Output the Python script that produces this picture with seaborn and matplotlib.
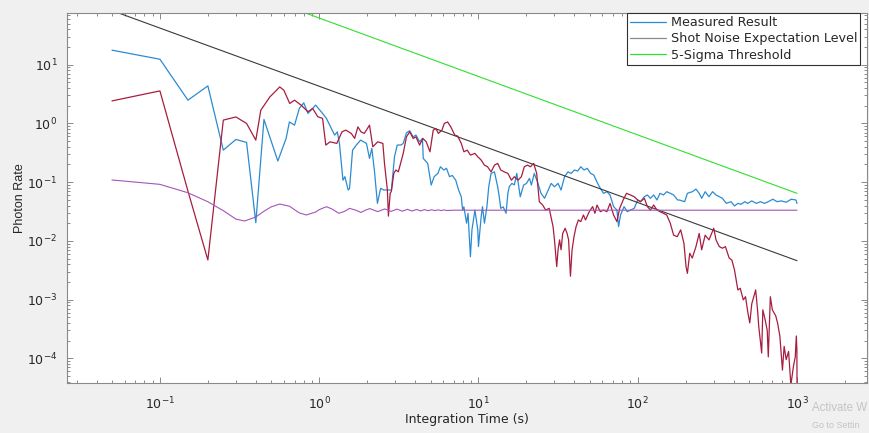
import matplotlib
matplotlib.use("Agg")
import matplotlib.pyplot as plt
from matplotlib.lines import Line2D
from matplotlib.ticker import LogLocator, NullFormatter
import seaborn as sns

# ---------------- data ----------------
t_measured = [0.05, 0.1, 0.15, 0.2, 0.25, 0.3, 0.35, 0.4, 0.45, 0.55, 0.62, 0.65, 0.7, 0.75,
              0.8, 0.85, 0.95, 1.03, 1.11, 1.25, 1.3, 1.34, 1.41, 1.45, 1.52, 1.55, 1.62, 1.71,
              1.82, 1.98, 2.07, 2.14, 2.22, 2.32, 2.43, 2.54, 2.7, 2.84, 2.97, 3.09, 3.27, 3.37,
              3.53, 3.7, 3.89, 4.05, 4.27, 4.45, 4.5, 4.8, 5.05, 5.27, 5.56, 5.77, 6.06, 6.3,
              6.58, 6.85, 7.2, 7.5, 7.8, 7.95, 8.1, 8.42, 8.6, 8.9, 9.1, 9.5, 9.9, 10.0, 10.4,
              10.6, 10.9, 11.3, 11.6, 12.0, 12.6, 13.2, 13.5, 13.8, 14.3, 14.9, 15.3, 15.6, 16.2,
              16.8, 17.4, 18.3, 19.2, 20, 20.9, 21.5, 22.4, 23.5, 24.7, 26.0, 27.4, 28.6, 30,
              31.6, 33, 34.7, 36.5, 38.2, 40, 42, 43.9, 46, 48.2, 50.6, 53, 55.5, 58.2, 61, 64,
              67, 70.5, 74, 75.8, 78, 82, 86, 90, 95, 100, 104, 110, 115, 120, 126, 132, 138,
              145, 152, 160, 168, 178, 182, 197, 205, 220, 232, 243, 252, 265, 280, 295, 310,
              325, 340, 360, 385, 405, 425, 445, 470, 490, 520, 555, 590, 625, 660, 705, 750,
              795, 855, 920, 985, 1000]
measured = [17.7, 12.4, 2.49, 4.36, 0.351, 0.534, 0.475, 0.0204, 1.17, 0.229, 0.556, 1.06, 0.935, 1.8,
            2.24, 1.48, 2.05, 1.58, 1.22, 0.633, 0.72, 0.457, 0.108, 0.124, 0.0735, 0.078, 0.351, 0.428,
            0.52, 0.457, 0.254, 0.376, 0.161, 0.0435, 0.0786, 0.0735, 0.0735, 0.0735, 0.27, 0.428, 0.43, 0.457,
            0.692, 0.75, 0.59, 0.633, 0.486, 0.556, 0.254, 0.209, 0.0893, 0.124, 0.141, 0.183, 0.161, 0.172,
            0.124, 0.13, 0.108, 0.0735, 0.0565, 0.0335, 0.038, 0.02, 0.0295, 0.00537, 0.0154, 0.0335, 0.0154, 0.008, 0.026,
            0.0383, 0.02, 0.0383, 0.0835, 0.141, 0.15, 0.0835, 0.0565, 0.0358, 0.038, 0.0295, 0.0646, 0.0835, 0.0953,
            0.09, 0.141, 0.0565, 0.0893, 0.095, 0.116, 0.0893, 0.141, 0.10, 0.0646, 0.0531, 0.0735, 0.0953, 0.0835,
            0.0953, 0.0735, 0.124, 0.15, 0.141, 0.161, 0.155, 0.183, 0.161, 0.172, 0.141, 0.132, 0.10, 0.0786, 0.0646, 0.0688,
            0.0605, 0.0383, 0.0335, 0.0175, 0.0276, 0.0383, 0.0314, 0.0335, 0.0358, 0.0497, 0.0465, 0.0565, 0.0605, 0.0531, 0.0605, 0.0497, 0.0646,
            0.0605, 0.0688, 0.0646, 0.0605, 0.0497, 0.0497, 0.0465, 0.0646, 0.0688, 0.0763, 0.0646, 0.0531, 0.0688, 0.0565, 0.0688, 0.0605,
            0.0565, 0.0531, 0.0435, 0.0465, 0.0393, 0.0435, 0.042, 0.0465, 0.0435, 0.048, 0.0435, 0.0465, 0.0435, 0.0465, 0.0512, 0.0465,
            0.048, 0.0455, 0.0512, 0.0497, 0.0435]

t_second = [0.05, 0.1, 0.15, 0.2, 0.25, 0.3, 0.35, 0.4, 0.43, 0.49, 0.54, 0.565, 0.6, 0.653, 0.7,
            0.77, 0.85, 0.91, 0.98, 1.05, 1.1, 1.17, 1.29, 1.39, 1.47, 1.59, 1.67, 1.75, 1.83,
            1.92, 2.07, 2.17, 2.33, 2.51, 2.57, 2.68, 2.72, 2.79, 2.84, 2.94, 3.03, 3.14, 3.37,
            3.53, 3.7, 3.89, 4.05, 4.27, 4.48, 4.7, 4.96, 5.2, 5.4, 5.6, 5.9, 6.1, 6.4, 6.7,
            7.1, 7.4, 7.8, 8.1, 8.5, 8.9, 9.5, 9.9, 10.4, 10.9, 11.4, 12.0, 12.6, 13.2, 13.8,
            14.5, 15.3, 16.1, 16.8, 17.7, 18.6, 19.4, 20.3, 21.2, 22.2, 23.2, 24.1, 25.3, 26.4,
            27.8, 29.4, 30.0, 31.0, 31.6, 32.3, 33.0, 33.8, 35.0, 36.0, 36.8, 37.8, 38.7, 39.8,
            41, 42.4, 43.9, 45.6, 47, 49.6, 52.1, 53.8, 55.5, 58.2, 61, 64, 67, 70.5, 74, 77,
            81, 85, 90, 95, 100, 104, 110, 115, 120, 126, 132, 138, 145, 152, 160, 168, 177,
            186, 195, 201, 205, 212, 220, 232, 243, 252, 265, 280, 300, 310, 325, 340, 355,
            375, 390, 405, 425, 440, 460, 475, 490, 505, 520, 550, 565, 575, 600, 610, 630,
            650, 660, 680, 700, 735, 755, 780, 810, 830, 855, 885, 915, 950, 975, 990, 998, 1000]
second = [2.42, 3.58, 0.0703, 0.00473, 1.14, 1.29, 1.0, 0.52, 1.68, 2.83, 3.68, 4.19, 3.68, 2.19, 2.49,
          2.05, 1.58, 1.8, 1.3, 1.22, 0.428, 0.486, 0.457, 0.72, 0.77, 0.676, 0.556, 0.875, 0.72,
          0.676, 0.935, 0.40, 0.486, 0.457, 0.209, 0.0735, 0.0264, 0.0646, 0.07, 0.141, 0.161, 0.15, 0.309,
          0.59, 0.72, 0.556, 0.59, 0.428, 0.556, 0.486, 0.329, 0.77, 0.82, 0.676, 0.77, 1.0, 1.06, 0.875,
          0.633, 0.61, 0.457, 0.329, 0.351, 0.289, 0.309, 0.27, 0.238, 0.195, 0.183, 0.15, 0.195, 0.209, 0.161,
          0.15, 0.141, 0.108, 0.124, 0.108, 0.124, 0.183, 0.195, 0.183, 0.209, 0.141, 0.0465, 0.0408, 0.0335,
          0.0358, 0.0175, 0.0104, 0.00364, 0.00705, 0.0104, 0.00705, 0.0134, 0.0164, 0.0134, 0.0104, 0.0025, 0.00705, 0.0118,
          0.0175, 0.0227, 0.0213, 0.0276, 0.0227, 0.0314, 0.0383, 0.0295, 0.0408, 0.0314, 0.0335, 0.0314, 0.0435, 0.0276, 0.0213, 0.0358,
          0.0497, 0.0646, 0.0605, 0.0565, 0.0497, 0.0465, 0.0531, 0.0383, 0.0335, 0.0408, 0.0335, 0.0314, 0.0295, 0.0276, 0.02, 0.0125, 0.0118,
          0.0154, 0.0091, 0.00364, 0.0028, 0.00615, 0.0051, 0.008, 0.0134, 0.00705, 0.0125, 0.0104, 0.0164, 0.0104, 0.008, 0.0075, 0.008,
          0.0051, 0.0047, 0.0032, 0.00146, 0.00156, 0.00099, 0.00112, 0.000627, 0.0004, 0.00085, 0.00146, 0.00067, 0.00035, 0.000123, 0.00067, 0.00046,
          0.0003, 0.000106, 0.00112, 0.00067, 0.00053, 0.0004, 0.00024, 6.3e-5, 0.00016, 9.5e-5, 0.000131, 3.5e-5, 7.4e-5, 0.000106, 0.00024, 0.00014, 3e-5]

t_sigma_ref = [0.05, 0.1, 0.15, 0.2, 0.25, 0.3, 0.34, 0.4, 0.45, 0.5, 0.565, 0.65, 0.7, 0.75, 0.83,
               0.95, 1.0, 1.11, 1.2, 1.33, 1.45, 1.55, 1.7, 1.83, 1.95, 2.08, 2.2, 2.33, 2.58,
               2.83, 3.08, 3.33, 3.58, 3.83, 4.08, 4.33, 4.58, 4.83, 5.08, 5.33, 5.58, 5.83,
               6.08, 6.33, 7.0, 1000]
sigma_ref = [0.109, 0.0918, 0.066, 0.0464, 0.0327, 0.0235, 0.0218, 0.0255, 0.032, 0.038, 0.0424, 0.039,
             0.034, 0.030, 0.0276, 0.031, 0.034, 0.0382, 0.035, 0.0295, 0.032, 0.0358, 0.0333, 0.0305,
             0.0333, 0.0355, 0.0334, 0.0315, 0.035, 0.0318, 0.0348, 0.032, 0.0345, 0.0322, 0.0343,
             0.0324, 0.0341, 0.0326, 0.0339, 0.0327, 0.0338, 0.0328, 0.0337, 0.0329, 0.0333, 0.0333]

t_lines = [0.05, 1000]
shot_noise = [83.6, 0.0046]
five_sigma = [1230, 0.0645]

legend_labels = ["Measured Result", "Shot Noise Expectation Level", "5-Sigma Threshold"]

# ---------------- styling ----------------
sns.set_theme(style="white")
plt.rcParams["font.family"] = ["DejaVu Sans"]
plt.rcParams["mathtext.fontset"] = "dejavusans"

C_BLUE = "#2b8bd2"
C_RED = "#a81d3f"
C_PURPLE = "#a455b8"
C_BLACK = "#3a3a3a"
C_GREEN = "#2ee02e"
AX_COL = "#8a8a8a"
TXT = "#262626"

fig = plt.figure(figsize=(8.7, 4.33), dpi=100, facecolor="#f0f0f0")
ax = fig.add_axes([67 / 870, 50 / 433, 800 / 870, 370 / 433])
ax.set_facecolor("white")

kw = dict(ax=ax, estimator=None, sort=False, legend=False)
sns.lineplot(x=t_measured, y=measured, color=C_BLUE, linewidth=0.9, **kw)
sns.lineplot(x=t_lines, y=shot_noise, color=C_BLACK, linewidth=0.8, **kw)
sns.lineplot(x=t_lines, y=five_sigma, color=C_GREEN, linewidth=0.8, **kw)
sns.lineplot(x=t_second, y=second, color=C_RED, linewidth=0.9, **kw)
sns.lineplot(x=t_sigma_ref, y=sigma_ref, color=C_PURPLE, linewidth=0.8, **kw)

ax.set_xscale("log")
ax.set_yscale("log")
ax.set_xlim(0.0261, 2750)
ax.set_ylim(3.8e-5, 76)

ax.xaxis.set_major_locator(LogLocator(base=10, numticks=20))
ax.yaxis.set_major_locator(LogLocator(base=10, numticks=20))
ax.xaxis.set_minor_locator(LogLocator(base=10, subs=range(2, 10), numticks=100))
ax.yaxis.set_minor_locator(LogLocator(base=10, subs=range(2, 10), numticks=100))
ax.xaxis.set_minor_formatter(NullFormatter())
ax.yaxis.set_minor_formatter(NullFormatter())

ax.tick_params(which="both", direction="in", top=True, right=True, bottom=True, left=True,
               color=AX_COL, width=0.7)
ax.tick_params(which="major", length=4.5, labelsize=9, labelcolor=TXT)
ax.tick_params(which="minor", length=2.5)
ax.tick_params(axis="x", which="major", pad=9)
ax.tick_params(axis="y", which="major", pad=7)

for s in ax.spines.values():
    s.set_color(AX_COL)
    s.set_linewidth(0.8)

ax.set_xlabel("Integration Time (s)", fontsize=9, color=TXT, labelpad=1)
ax.set_ylabel("Photon Rate", fontsize=9, color=TXT, labelpad=1,
              family=["Liberation Sans", "DejaVu Sans"])

handles = [Line2D([], [], color=C_BLUE, lw=0.9),
           Line2D([], [], color="#8a8a8a", lw=0.9),
           Line2D([], [], color=C_GREEN, lw=0.9)]
leg = ax.legend(handles, legend_labels, loc="upper right", bbox_to_anchor=(0.9915, 1.0),
                borderaxespad=0, frameon=True, fancybox=False, framealpha=1,
                edgecolor="#303030", fontsize=9.2, handlelength=2.8, handletextpad=0.35,
                labelspacing=0.25, borderpad=0.25)
leg.get_frame().set_linewidth(0.8)
for txt in leg.get_texts():
    txt.set_color(TXT)

# faint OS watermark seen at the bottom-right corner of the screenshot
fig.text(812 / 870, 1 - 408 / 433, "Activate W", fontsize=8.3, color="#c4c4c4",
         va="center", ha="left", family=["Liberation Sans", "DejaVu Sans"])
fig.text(812 / 870, 1 - 425 / 433, "Go to Settin", fontsize=6.5, color="#c4c4c4",
         va="center", ha="left", family=["Liberation Sans", "DejaVu Sans"])

fig.savefig("out.png", dpi=100, facecolor=fig.get_facecolor())
